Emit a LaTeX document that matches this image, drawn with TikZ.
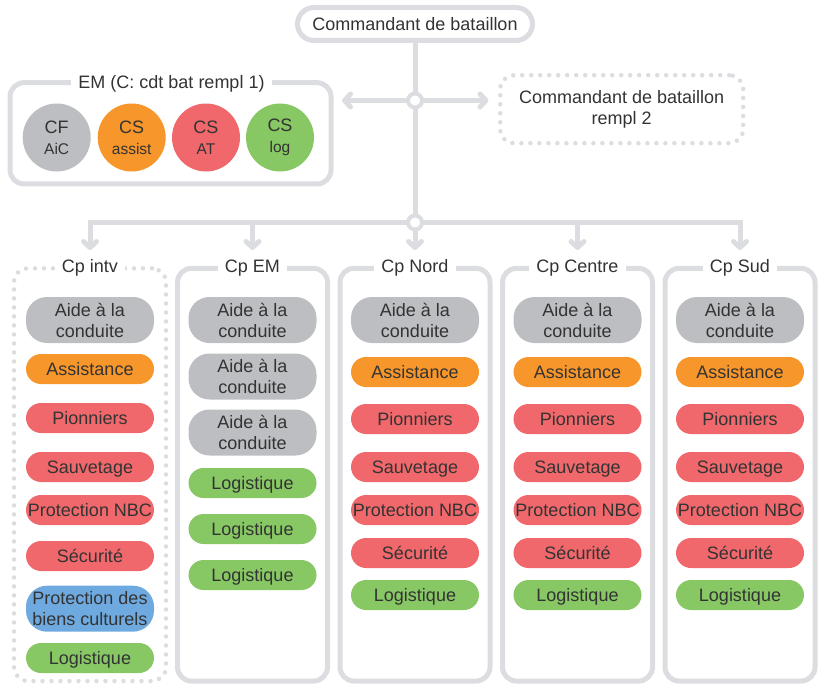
\documentclass[tikz,border=0pt]{standalone}
\usepackage{fontspec}
\setmainfont{Liberation Sans}
\usetikzlibrary{arrows.meta}

\definecolor{frame}{HTML}{DCDDE0}
\definecolor{ink}{HTML}{333333}
\definecolor{cgray}{HTML}{BDBEC2}
\definecolor{corange}{HTML}{F7962B}
\definecolor{cred}{HTML}{F0686B}
\definecolor{cgreen}{HTML}{87C764}
\definecolor{cblue}{HTML}{6EAADF}

\newcommand\rolesub[1]{{\fontsize{15.5}{18}\selectfont #1}}

\tikzset{
  every node/.style={text=ink, font=\fontsize{18}{21}\selectfont},
  link/.style={draw=frame, line width=5pt},
  arrowlink/.style={link, -{Straight Barb[length=6pt,width=13pt,line cap=round,line join=round]}},
  framebox/.style={rectangle, draw=frame, line width=5pt, rounded corners=14pt, inner sep=0pt},
  dotbox/.style={rectangle, draw=frame, line width=4.5pt, line cap=round, dash pattern=on 0pt off 9pt, rounded corners=14pt, inner sep=0pt},
  topbox/.style={rectangle, draw=frame, line width=5pt, fill=white, rounded corners=16.5pt, minimum width=235pt, minimum height=33pt, inner sep=0pt},
  hub/.style={circle, draw=frame, line width=4pt, fill=white, minimum size=14pt, inner sep=0pt},
  role/.style={circle, minimum size=68pt, inner sep=0pt, align=center},
  caption/.style={fill=white, inner xsep=7pt, inner ysep=3pt},
  pill/.style={rectangle, rounded corners=15pt, minimum width=128pt, minimum height=30pt, inner sep=0pt, text height=13pt, text depth=0pt},
  pill2/.style={rectangle, rounded corners=21pt, minimum width=128pt, minimum height=46pt, inner sep=0pt, align=center},
}

\begin{document}
\begin{tikzpicture}[x=1pt,y=-1pt]
\useasboundingbox (0,0) rectangle (819,685);

% battalion commander and trunk
\node[topbox] (cdt) at (415,24) {Commandant de bataillon};
\coordinate (j1) at (415,100.5);
\coordinate (j2) at (415,222.5);
\draw[link] (cdt.south) -- (j2);

% staff box
\node[framebox, minimum width=321pt, minimum height=101.3pt] (em) at (170.5,133.3) {};
\node[caption, anchor=base] (emt) at (171.5,88.3) {EM (C: cdt bat rempl 1)};
\node[role, fill=cgray]   (cf)  at (56.7,137.5)  {CF\\\rolesub{AiC}};
\node[role, fill=corange] (csa) at (131.7,137.5) {CS\\\rolesub{assist}};
\node[role, fill=cred]    (cst) at (206,137.5)   {CS\\\rolesub{AT}};
\node[role, fill=cgreen]  (csl) at (280,137.5)   {CS\\\rolesub{log}};

% second deputy
\node[dotbox, minimum width=243pt, minimum height=68pt, align=center] (r2) at (621.7,109.2) {Commandant de bataillon\\rempl 2};

\draw[arrowlink, shorten >=8.5pt] (j1) -- (j1 -| em.east);
\draw[arrowlink, shorten >=9.5pt] (j1) -- (j1 -| r2.west);

% distribution bar to the companies
\coordinate (aI) at (90,250);
\coordinate (aE) at (252.5,250);
\coordinate (aN) at (415,250);
\coordinate (aC) at (577.5,250);
\coordinate (aS) at (740,250);
\draw[arrowlink] (j2) -| (aI);
\draw[arrowlink] (j2) -| (aS);
\draw[arrowlink] (j2 -| aE) -- (aE);
\draw[arrowlink] (j2) -- (aN);
\draw[arrowlink] (j2 -| aC) -- (aC);

\node[hub] (h1) at (j1) {};
\node[hub] (h2) at (j2) {};

% company boxes
\node[dotbox, minimum width=152pt, minimum height=412.7pt] (bI) at (90,474.7) {};
\foreach \c/\x in {E/252.5, N/415, C/577.5, S/740}
  \node[framebox, minimum width=150pt, minimum height=412.7pt] (b\c) at (\x,474.7) {};

\node[caption, anchor=base] (tI) at (90,272.7)    {Cp intv};
\node[caption, anchor=base] (tE) at (252.5,272.7) {Cp EM};
\node[caption, anchor=base] (tN) at (415,272.7)   {Cp Nord};
\node[caption, anchor=base] (tC) at (577.5,272.7) {Cp Centre};
\node[caption, anchor=base] (tS) at (740,272.7)   {Cp Sud};

% Cp intv
\node[pill2, fill=cgray]  (I1) at (90,320)   {Aide à la\\conduite};
\node[pill, fill=corange] (I2) at (90,369)   {Assistance};
\node[pill, fill=cred]    (I3) at (90,418)   {Pionniers};
\node[pill, fill=cred]    (I4) at (90,467)   {Sauvetage};
\node[pill, fill=cred]    (I5) at (90,510)   {Protection NBC};
\node[pill, fill=cred]    (I6) at (90,556)   {Sécurité};
\node[pill2, fill=cblue]  (I7) at (90,608.7) {Protection des\\biens culturels};
\node[pill, fill=cgreen]  (I8) at (90,658)   {Logistique};

% Cp EM
\node[pill2, fill=cgray] (E1) at (252.5,320)   {Aide à la\\conduite};
\node[pill2, fill=cgray] (E2) at (252.5,376.5) {Aide à la\\conduite};
\node[pill2, fill=cgray] (E3) at (252.5,432.5) {Aide à la\\conduite};
\node[pill, fill=cgreen] (E4) at (252.5,483)   {Logistique};
\node[pill, fill=cgreen] (E5) at (252.5,529)   {Logistique};
\node[pill, fill=cgreen] (E6) at (252.5,575)   {Logistique};

% Cp Nord, Centre, Sud
\foreach \c/\x in {N/415, C/577.5, S/740} {
  \node[pill2, fill=cgray]  (\c1) at (\x,320) {Aide à la\\conduite};
  \node[pill, fill=corange] (\c2) at (\x,372) {Assistance};
  \node[pill, fill=cred]    (\c3) at (\x,419) {Pionniers};
  \node[pill, fill=cred]    (\c4) at (\x,467) {Sauvetage};
  \node[pill, fill=cred]    (\c5) at (\x,510) {Protection NBC};
  \node[pill, fill=cred]    (\c6) at (\x,553) {Sécurité};
  \node[pill, fill=cgreen]  (\c7) at (\x,595) {Logistique};
}
\end{tikzpicture}
\end{document}
